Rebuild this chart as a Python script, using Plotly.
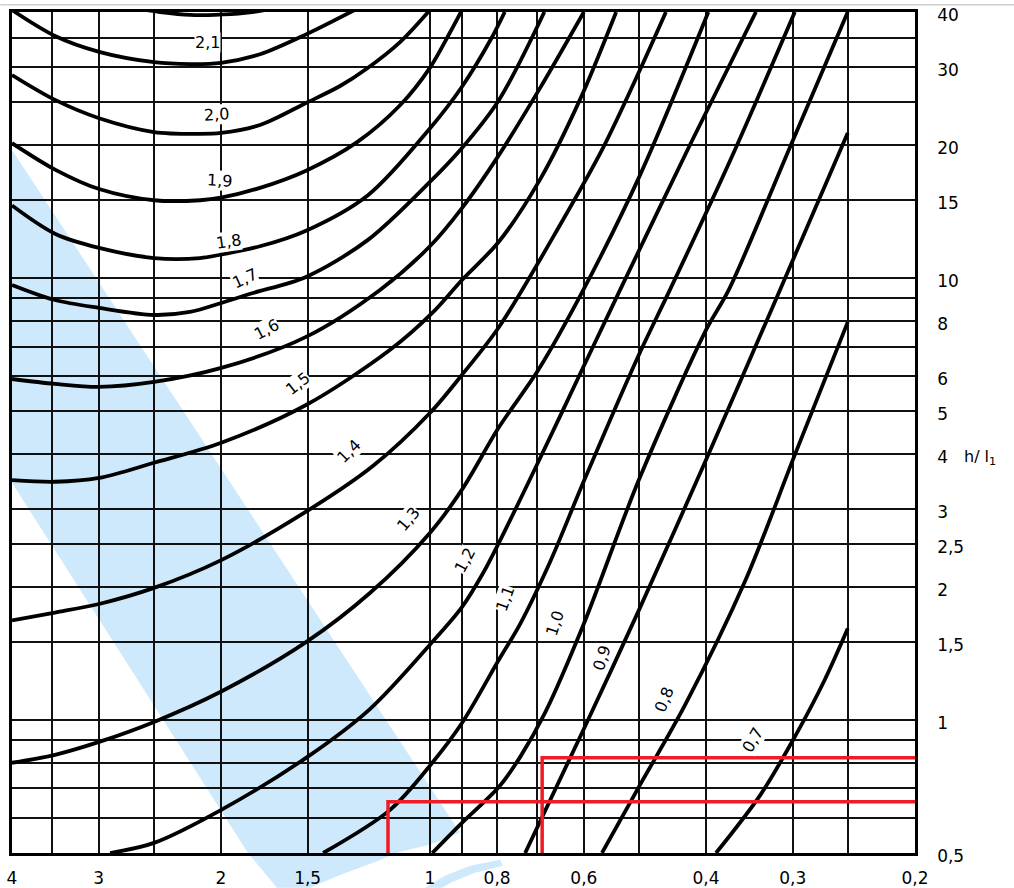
import numpy as np
import plotly.graph_objects as go

# ---------------- axes ----------------
X_MIN, X_MAX = 0.2, 4.0
Y_MIN, Y_MAX = 0.5, 40.0

x_grid = [4, 3.5, 3, 2.5, 2, 1.5, 1, 0.9, 0.8, 0.7, 0.6, 0.5, 0.4, 0.3, 0.25, 0.2]
x_tick_vals = [4, 3, 2, 1.5, 1, 0.8, 0.6, 0.4, 0.3, 0.2]
x_tick_text = ["4", "3", "2", "1,5", "1", "0,8", "0,6", "0,4", "0,3", "0,2"]

y_grid = [0.5, 0.6, 0.7, 0.8, 0.9, 1, 1.5, 2, 2.5, 3, 4, 5, 6, 7, 8, 9, 10,
          15, 20, 25, 30, 35, 40]
y_tick_vals = [0.5, 1, 1.5, 2, 2.5, 3, 4, 5, 6, 8, 10, 15, 20, 30, 40]
y_tick_text = ["0,5", "1", "1,5", "2", "2,5", "3", "4", "5", "6", "8", "10",
               "15", "20", "30", "40"]

# ---------------- curves ----------------
k22_x = [2.615, 2.448, 2.216, 2.04, 1.846, 1.699]
k22_y = [40.6, 40.0, 39.4, 39.4, 39.8, 40.6]

k21_x = [4, 3.468, 2.996, 2.497, 2.216, 2.0, 1.757, 1.508, 1.269]
k21_y = [40.4, 35.3, 32.5, 30.8, 30.5, 30.7, 32.1, 35.6, 40.8]

k20_x = [4, 3.468, 2.996, 2.497, 2.143, 2.0, 1.757, 1.508, 1.347, 1.232, 1.104, 1.0]
k20_y = [28.8, 25.3, 23.0, 21.4, 21.2, 21.3, 22.2, 24.9, 27.2, 29.8, 34.2, 40.4]

k19_x = [4, 3.468, 2.996, 2.497, 2.143, 2.0, 1.757, 1.508, 1.273, 1.104,
         1.0, 0.935, 0.899]
k19_y = [20.2, 17.6, 15.9, 15.0, 15.0, 15.2, 16.0, 17.5, 20.3, 24.6,
         29.9, 36.0, 40.4]

k18_x = [4, 3.468, 2.996, 2.497, 2.143, 2.0, 1.757, 1.508, 1.228, 1.0,
         0.899, 0.816, 0.780]
k18_y = [14.6, 12.6, 11.7, 11.1, 11.1, 11.3, 11.8, 12.8, 15.4, 21.8,
         27.1, 34.8, 40.0]

k17_x = [4, 3.468, 2.996, 2.497, 2.216, 1.998, 1.798, 1.508, 1.228, 1.0,
         0.899, 0.795, 0.684]
k17_y = [9.65, 8.92, 8.56, 8.25, 8.38, 8.78, 9.25, 10.06, 12.2, 16.5,
         19.7, 25.3, 40.0]

k16_x = [4, 3.468, 2.996, 2.497, 1.998, 1.508, 1.180, 1.0, 0.899, 0.795,
         0.694, 0.600]
k16_y = [5.91, 5.76, 5.67, 5.82, 6.26, 7.36, 9.40, 11.8, 14.4, 19.0,
         26.9, 40.0]

k15_x = [4, 3.468, 2.996, 2.497, 1.998, 1.508, 1.141, 0.992, 0.899, 0.795,
         0.694, 0.608, 0.539]
k15_y = [3.49, 3.46, 3.53, 3.82, 4.24, 5.16, 6.88, 8.34, 9.9, 12.1, 16.7,
         25.3, 40.0]

k14_x = [4, 3.468, 2.996, 2.497, 1.998, 1.508, 1.207, 1.0, 0.899, 0.795,
         0.649, 0.563, 0.498, 0.457]
k14_y = [1.68, 1.75, 1.83, 1.99, 2.30, 2.96, 3.76, 4.95, 6.04, 7.75,
         13.2, 19.7, 29.6, 40.0]

k13_x = [4, 3.468, 2.996, 2.497, 1.998, 1.508, 1.219, 1.0, 0.899, 0.795,
         0.698, 0.601, 0.498, 0.397]
k13_y = [0.800, 0.834, 0.892, 0.99, 1.16, 1.50, 1.94, 2.65, 3.32, 4.60,
         6.19, 9.40, 17.1, 40.0]

k12_x = [2.889, 2.497, 1.998, 1.508, 1.219, 1.0, 0.899, 0.838, 0.795, 0.701,
         0.601, 0.532, 0.422, 0.339]
k12_y = [0.5, 0.527, 0.626, 0.821, 1.06, 1.48, 1.80, 2.15, 2.52, 3.78,
         6.29, 9.40, 20.0, 40.0]

k11_x = [1.425, 1.141, 0.992, 0.899, 0.795, 0.741, 0.671, 0.601, 0.500,
         0.451, 0.369, 0.298]
k11_y = [0.5, 0.626, 0.800, 0.984, 1.37, 1.65, 2.28, 3.45, 6.70,
         9.40, 18.5, 40.0]

k10_x = [0.992, 0.899, 0.795, 0.741, 0.682, 0.601, 0.500, 0.4, 0.371, 0.304, 0.250]
k10_y = [0.5, 0.585, 0.706, 0.825, 1.04, 1.64, 3.49, 7.63, 9.40, 19.5, 40.0]

k09_x = [0.729, 0.601, 0.500, 0.4, 0.313, 0.25]
k09_y = [0.5, 0.949, 1.77, 3.88, 9.40, 21.3]

k08_x = [0.565, 0.498, 0.429, 0.351, 0.298, 0.25]
k08_y = [0.5, 0.713, 1.08, 2.07, 3.98, 7.95]

k07_x = [0.387, 0.334, 0.298, 0.270, 0.25]
k07_y = [0.5, 0.677, 0.916, 1.23, 1.61]

# curve labels
lab_text = ["2,1", "2,0", "1,9", "1,8", "1,7", "1,6", "1,5", "1,4", "1,3",
            "1,2", "1,1", "1,0", "0,9", "0,8", "0,7"]
lab_x = [2.09, 2.03, 2.01, 1.95, 1.85, 1.72, 1.55, 1.31, 1.075, 0.890, 0.778,
         0.660, 0.566, 0.459, 0.343]
lab_y = [34.2, 23.5, 16.6, 12.1, 10.0, 7.65, 5.78, 4.06, 2.84, 2.29, 1.88,
         1.65, 1.38, 1.11, 0.90]
lab_angle = [0, -3, 3, -8, -25, -28, -38, -45, -50, -62, -70, -72, -72, -68, -60]

# red reading lines
red1_x = [1.149, 1.149, 0.2]
red1_y = [0.5, 0.653, 0.653]
red2_x = [0.689, 0.689, 0.2]
red2_y = [0.5, 0.821, 0.821]

# light-blue highlight band (data units; partly below the axis)
band_x = [4, 0.905, 1.0, 1.104, 1.199, 1.347, 1.488, 1.660, 1.828, 4]
band_y = [19.5, 0.556, 0.522, 0.503, 0.477, 0.446, 0.417, 0.417, 0.5, 3.44]
arc_x = [1.016, 0.951, 0.875, 0.792, 0.785, 0.861, 0.929, 0.960]
arc_y = [0.417, 0.444, 0.468, 0.483, 0.468, 0.451, 0.430, 0.417]

LX = np.log10(X_MAX) - np.log10(X_MIN)
LY = np.log10(Y_MAX) - np.log10(Y_MIN)


def fx(x):
    return (np.log10(X_MAX) - np.log10(x)) / LX


def fy(y):
    return (np.log10(y) - np.log10(Y_MIN)) / LY


def paper_path(xs, ys):
    pts = [f"{fx(a):.5f},{fy(b):.5f}" for a, b in zip(xs, ys)]
    return "M " + " L ".join(pts) + " Z"


fig = go.Figure()

curves = [
    (k22_x, k22_y), (k21_x, k21_y), (k20_x, k20_y), (k19_x, k19_y),
    (k18_x, k18_y), (k17_x, k17_y), (k16_x, k16_y), (k15_x, k15_y),
    (k14_x, k14_y), (k13_x, k13_y), (k12_x, k12_y), (k11_x, k11_y),
    (k10_x, k10_y), (k09_x, k09_y), (k08_x, k08_y), (k07_x, k07_y),
]
for cx, cy in curves:
    fig.add_trace(go.Scatter(x=cx, y=cy, mode="lines",
                             line=dict(color="#000000", width=3.8,
                                       shape="spline", smoothing=0.9),
                             hoverinfo="skip", showlegend=False))

for rx, ry in [(red1_x, red1_y), (red2_x, red2_y)]:
    fig.add_trace(go.Scatter(x=rx, y=ry, mode="lines",
                             line=dict(color="#ee1c25", width=3.5),
                             hoverinfo="skip", showlegend=False))

shapes = [
    dict(type="path", xref="paper", yref="paper", path=paper_path(band_x, band_y),
         fillcolor="#cde9fb", line=dict(width=0), layer="below"),
    dict(type="path", xref="paper", yref="paper", path=paper_path(arc_x, arc_y),
         fillcolor="#cde9fb", line=dict(width=0), layer="below"),
    dict(type="line", xref="paper", yref="paper", x0=-0.013, x1=1.11,
         y0=1.0085, y1=1.0085, line=dict(color="#cfcfcf", width=1.5)),
]

annotations = []
for t, ax, ay, ang in zip(lab_text, lab_x, lab_y, lab_angle):
    annotations.append(dict(x=np.log10(ax), y=np.log10(ay), xref="x", yref="y",
                            text=t, showarrow=False, textangle=ang,
                            font=dict(family="DejaVu Sans", size=16, color="black"),
                            bgcolor="white", borderpad=0))
annotations.append(dict(x=1.052, y=0.47, xref="paper", yref="paper",
                        text="h/ l<sub>1</sub>", showarrow=False, xanchor="left",
                        font=dict(family="DejaVu Sans", size=16, color="black")))

fig.update_layout(
    width=1014, height=888,
    margin=dict(l=12, r=99, t=12, b=35, autoexpand=False),
    paper_bgcolor="white", plot_bgcolor="rgba(0,0,0,0)",
    shapes=shapes, annotations=annotations,
    font=dict(family="DejaVu Sans", size=16, color="black"),
)

x_text = [x_tick_text[x_tick_vals.index(v)] if v in x_tick_vals else "" for v in x_grid]
y_text = [y_tick_text[y_tick_vals.index(v)] if v in y_tick_vals else "" for v in y_grid]

fig.update_xaxes(type="log", range=[np.log10(X_MAX), np.log10(X_MIN)],
                 tickmode="array", tickvals=x_grid, ticktext=x_text,
                 showgrid=True, gridcolor="#111111", gridwidth=1.7,
                 showline=True, linecolor="black", linewidth=3, mirror=True,
                 ticks="", zeroline=False, ticklabeloverflow="allow",
                 automargin=False,
                 ticklabelstandoff=8, tickfont=dict(size=17))
fig.update_yaxes(type="log", range=[np.log10(Y_MIN), np.log10(Y_MAX)],
                 side="right",
                 tickmode="array", tickvals=y_grid, ticktext=y_text,
                 showgrid=True, gridcolor="#111111", gridwidth=1.7,
                 showline=True, linecolor="black", linewidth=2.5, mirror=True,
                 ticks="", zeroline=False, ticklabeloverflow="allow",
                 automargin=False,
                 ticklabelstandoff=16, ticklabelshift=3, tickfont=dict(size=17))

fig.write_html("out.html", config={"displayModeBar": False},
               post_script="document.body.style.margin='0';"
                           "document.body.style.overflow='hidden';")
